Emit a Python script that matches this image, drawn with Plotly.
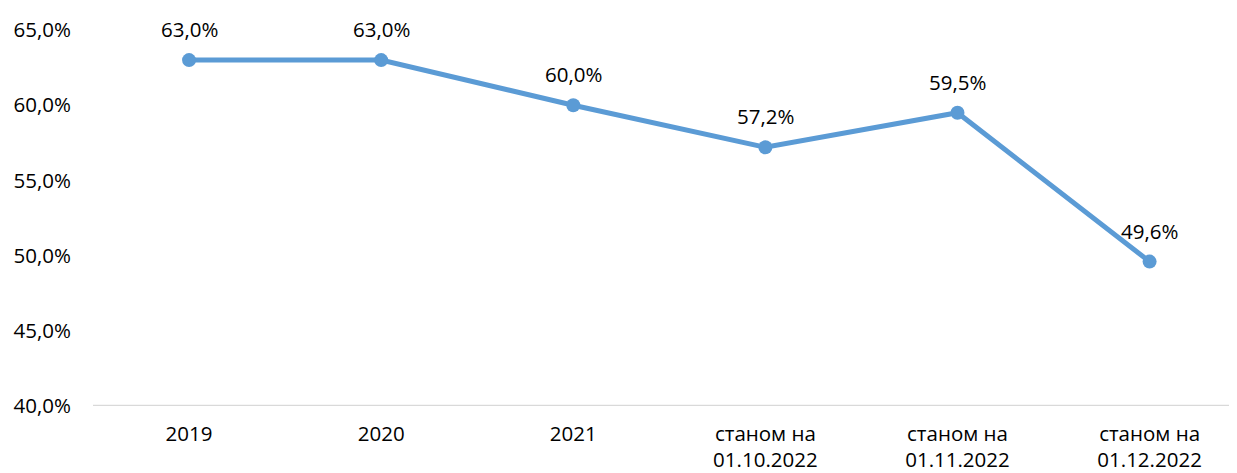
import plotly.graph_objects as go

categories = ["2019", "2020", "2021", "станом на<br>01.10.2022", "станом на<br>01.11.2022", "станом на<br>01.12.2022"]
values = [0.630, 0.630, 0.600, 0.572, 0.595, 0.496]
y_ticks = [0.40, 0.45, 0.50, 0.55, 0.60, 0.65]

x_idx = list(range(len(categories)))
font_family = "Open Sans, Liberation Sans, sans-serif"
fs = 20.5

fig = go.Figure()
fig.add_trace(go.Scatter(
    x=x_idx, y=values, mode="lines+markers",
    line=dict(color="#5B9BD5", width=5),
    marker=dict(color="#5B9BD5", size=14),
    hoverinfo="skip", showlegend=False, cliponaxis=False,
))

for xi, v in zip(x_idx, values):
    fig.add_annotation(
        x=xi, y=v, text=f"{v*100:.1f}%".replace(".", ","),
        showarrow=False, yshift=31, font=dict(size=fs, color="#000000", family=font_family),
    )

fig.update_layout(
    width=1229, height=465,
    margin=dict(l=85, r=0, t=22, b=67),
    paper_bgcolor="white", plot_bgcolor="white",
    separators=", ",
    font=dict(family=font_family, size=fs, color="#000000"),
)
fig.update_xaxes(
    range=[-0.5, 5.455],
    tickmode="array", tickvals=x_idx, ticktext=categories,
    showgrid=False, zeroline=False, showline=False,
    ticks="", tickfont=dict(size=fs), automargin=False, ticklabelstandoff=13,
)
fig.update_yaxes(
    range=[0.40, 0.65],
    tickmode="array", tickvals=y_ticks,
    ticktext=[f"{t*100:.1f}%".replace(".", ",") for t in y_ticks],
    showgrid=False, zeroline=False, showline=False, ticks="",
    tickfont=dict(size=fs), ticklabelstandoff=21, automargin=False,
)
fig.add_shape(type="line", xref="paper", yref="y", x0=0, x1=1, y0=0.40, y1=0.40,
              line=dict(color="#D9D9D9", width=2.5), layer="below")

fig.write_html("out.html")
